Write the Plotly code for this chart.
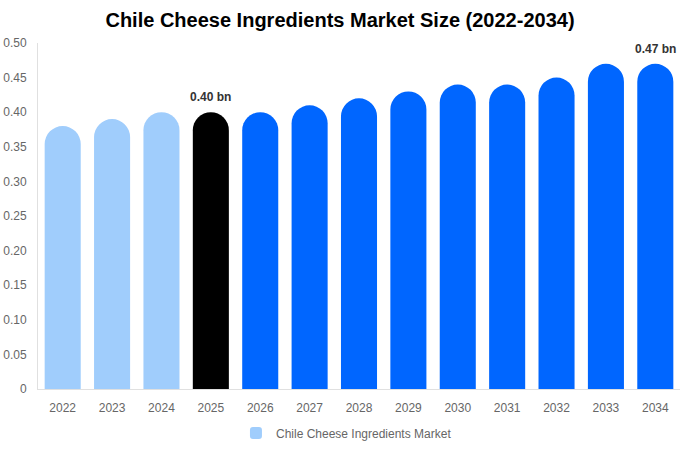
import plotly.graph_objects as go

years = ["2022", "2023", "2024", "2025", "2026", "2027", "2028",
         "2029", "2030", "2031", "2032", "2033", "2034"]
market_size = [0.38, 0.39, 0.40, 0.40, 0.40, 0.41, 0.42,
               0.43, 0.44, 0.44, 0.45, 0.47, 0.47]
bar_colors = ["#a0cdfc"] * 3 + ["#000000"] + ["#0066ff"] * 9
labelled = {"2025": "0.40 bn", "2034": "0.47 bn"}

y_ticks = [0, 0.05, 0.10, 0.15, 0.20, 0.25, 0.30, 0.35, 0.40, 0.45, 0.50]
y_tick_text = ["0", "0.05", "0.10", "0.15", "0.20", "0.25", "0.30",
               "0.35", "0.40", "0.45", "0.50"]

font = "Liberation Sans, Arial, sans-serif"

fig = go.Figure()
fig.add_trace(go.Bar(
    x=years, y=market_size,
    marker=dict(color=bar_colors, cornerradius="50%", line=dict(width=0)),
    name="Chile Cheese Ingredients Market",
    showlegend=True,
    hoverinfo="x+y",
))

labels = []
for yr, txt in labelled.items():
    labels.append(dict(
        xref="x", yref="y", x=years.index(yr), y=market_size[years.index(yr)],
        text="<b>%s</b>" % txt, showarrow=False,
        xanchor="center", yanchor="bottom", yshift=6,
        font=dict(family=font, size=12, color="#333333"),
    ))

fig.update_layout(
    width=680, height=450,
    paper_bgcolor="white", plot_bgcolor="white",
    margin=dict(l=38, r=0, t=43, b=61, autoexpand=False),
    bargap=0.27,
    annotations=labels,
    title=dict(text="<b>Chile Cheese Ingredients Market Size (2022-2034)</b>",
               x=0.5, xanchor="center", xref="container",
               y=0.955, yanchor="middle", yref="container",
               font=dict(family=font, size=20, color="#000000")),
    font=dict(family=font, size=12, color="#666666"),
    legend=dict(orientation="h", xref="container", x=0.347, xanchor="left",
                y=-0.127, yanchor="middle",
                font=dict(family=font, size=12, color="#666666")),
)
fig.update_xaxes(
    type="category", automargin=False,
    showgrid=False, showline=True, linecolor="#e0e0e0", linewidth=1,
    ticks="", ticklabelstandoff=8, tickfont=dict(color="#666666", size=12),
    range=[-0.5, 12.5],
)
fig.update_yaxes(
    range=[0, 0.5], tickvals=y_ticks, ticktext=y_tick_text, automargin=False,
    showgrid=False, showline=True, linecolor="#e0e0e0", linewidth=1,
    zeroline=False, ticks="", ticklabelstandoff=8,
    tickfont=dict(color="#666666", size=12),
)

fig.write_html("out.html", config={"displayModeBar": False},
               post_script="document.body.style.margin='0';")
